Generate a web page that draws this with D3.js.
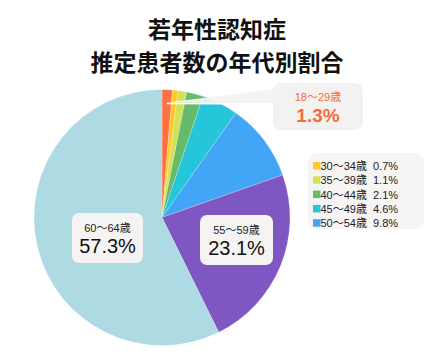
<!DOCTYPE html>
<html><head><meta charset="utf-8">
<script src="https://cdn.jsdelivr.net/npm/d3@7"></script>
<style>body{margin:0;background:#fff;} svg{display:block;font-family:"Liberation Sans","Noto Sans CJK JP",sans-serif;}</style>
</head><body>
<svg id="c" width="433" height="361"></svg>
<script>
const titleLines = ["若年性認知症", "推定患者数の年代別割合"];
const categories = ["18〜29歳","30〜34歳","35〜39歳","40〜44歳","45〜49歳","50〜54歳","55〜59歳","60〜64歳"];
const values = [1.3, 0.7, 1.1, 2.1, 4.6, 9.8, 23.1, 57.3];
const colors = ["#FF7043","#FFCA28","#D4E157","#66BB6A","#26C6DA","#42A5F5","#7E57C2","#ADDAE3"];
const legendIdx = [1,2,3,4,5];

const svg = d3.select("#c");
const cx = 162, cy = 217.5, r = 128;

// title
svg.append("g").selectAll("text").data(titleLines).join("text")
  .attr("x", 217).attr("y", (d,i)=>38 + i*33)
  .attr("text-anchor","middle").attr("font-size",23).attr("font-weight",700).attr("fill","#111")
  .attr("font-family","'Noto Sans CJK JP',sans-serif")
  .text(d=>d);

const data = categories.map((c,i)=>({cat:c, val:values[i], color:colors[i]}));
const pie = d3.pie().value(d=>d.val).sort(null);
const arc = d3.arc().innerRadius(0).outerRadius(r);
const arcs = pie(data);
const g = svg.append("g").attr("transform",`translate(${cx},${cy})`);
g.selectAll("path").data(arcs).join("path")
  .attr("d",arc).attr("fill",d=>d.data.color)
  .attr("stroke","rgba(255,255,255,0.5)").attr("stroke-width",0.4);

const fmt = v => v.toFixed(1) + "%";

// callout for smallest slice
const a0 = arcs[0];
const ang = (a0.startAngle + a0.endAngle)/2;
const px = cx + Math.sin(ang)*r*0.9, py = cy - Math.cos(ang)*r*0.9;
const bx = 273, by = 83, bw = 90, bh = 47;
svg.append("path")
  .attr("d",`M${px},${py} L${bx+4},${by+6} L${bx+4},${py+1.5} Z`)
  .attr("fill","#F4F2F1").attr("opacity",0.95);
svg.append("line").attr("x1",px).attr("y1",py+1).attr("x2",bx+2).attr("y2",py+1.5)
  .attr("stroke","#fff").attr("stroke-width",1.5);
svg.append("rect").attr("x",bx).attr("y",by).attr("width",bw).attr("height",bh).attr("rx",8)
  .attr("fill","#F4F2F1");
svg.append("text").attr("x",bx+bw/2).attr("y",by+18).attr("text-anchor","middle")
  .attr("font-size",11).attr("fill","#F26B3A").text(categories[0]);
svg.append("text").attr("x",bx+bw/2).attr("y",by+39).attr("text-anchor","middle")
  .attr("font-size",19).attr("font-weight",700).attr("fill","#F26B3A").text(fmt(values[0]));

// in-slice labels
const labelBoxes = [
  {i:7, x:72, y:213, w:71, h:50},
  {i:6, x:200, y:215, w:73, h:50}
];
labelBoxes.forEach(b=>{
  svg.append("rect").attr("x",b.x).attr("y",b.y).attr("width",b.w).attr("height",b.h).attr("rx",7)
    .attr("fill","#F6F4F3");
  svg.append("text").attr("x",b.x+b.w/2).attr("y",b.y+19).attr("text-anchor","middle")
    .attr("font-size",11).attr("fill","#222").text(categories[b.i]);
  svg.append("text").attr("x",b.x+b.w/2).attr("y",b.y+40).attr("text-anchor","middle")
    .attr("font-size",20).attr("fill","#111").text(fmt(values[b.i]));
});

// legend
const lg = svg.append("g");
lg.append("rect").attr("x",308).attr("y",153).attr("width",116).attr("height",76).attr("rx",9).attr("fill","#F7F5F4");
const rows = lg.selectAll("g.row").data(legendIdx).join("g").attr("class","row")
  .attr("transform",(d,k)=>`translate(0,${166 + k*14.3})`);
rows.append("rect").attr("x",313).attr("y",-4).attr("width",7.5).attr("height",7.5).attr("fill",d=>colors[d]);
rows.append("text").attr("x",320.5).attr("y",4).attr("font-size",11).attr("fill","#222").text(d=>categories[d]);
rows.append("text").attr("x",373).attr("y",4).attr("font-size",11).attr("fill","#222").text(d=>fmt(values[d]));
</script>
</body></html>
